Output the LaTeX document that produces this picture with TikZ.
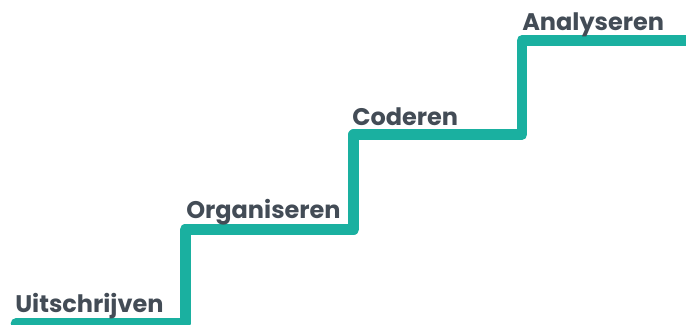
\documentclass[tikz,border=0pt]{standalone}
\usepackage{fontspec}
\setmainfont{Poppins}
\definecolor{stair}{HTML}{1AB0A0}
\definecolor{lab}{HTML}{434C56}
\tikzset{stair line/.style={draw=stair,line width=8pt,line join=round,line cap=round},
lab text/.style={text=lab,font=\bfseries\fontsize{18}{21}\selectfont,anchor=base west,inner sep=0pt}}
\begin{document}
\begin{tikzpicture}[x=0.75pt,y=-0.75pt]
\useasboundingbox (0,0) rectangle (686,325);
\clip (0,0) rectangle (686,325);
\coordinate (s0) at (16,323.6);
\coordinate (s1) at (185.3,323.6);
\coordinate (s2) at (185.3,229.3);
\coordinate (s3) at (353.8,229.3);
\coordinate (s4) at (353.8,134.6);
\coordinate (s5) at (522,134.6);
\coordinate (s6) at (522,40.3);
\coordinate (s7) at (700,40.3);
\draw[stair line] (s0)--(s1)--(s2)--(s3)--(s4)--(s5)--(s6)--(s7);
\node[lab text] (a) at (15,312.7) {Uitschrijven};
\node[lab text] (b) at (186,218.3) {Organiseren};
\node[lab text] (c) at (352,125) {Coderen};
\node[lab text] (d) at (522,30.7) {Analyseren};
\end{tikzpicture}
\end{document}
